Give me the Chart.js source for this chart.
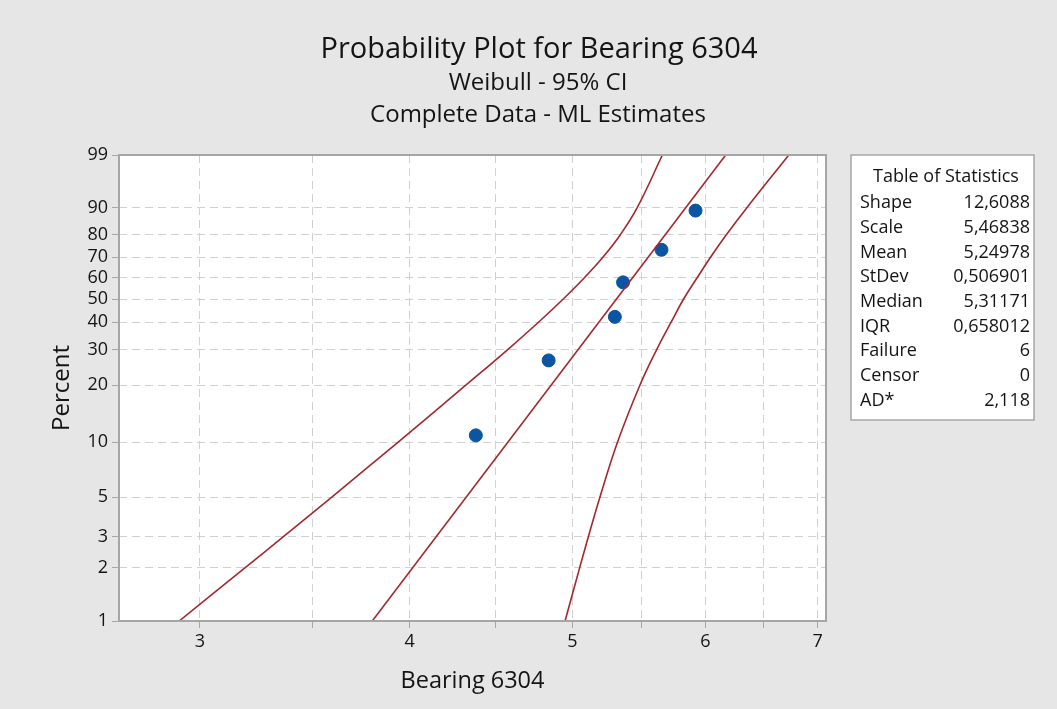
<!DOCTYPE html>
<html>
<head>
<meta charset="utf-8">
<script src="https://cdn.jsdelivr.net/npm/chart.js@4.4.1/dist/chart.umd.min.js"></script>
<style>
  html, body { margin: 0; padding: 0; background: #e6e6e6; }
</style>
</head>
<body>
<canvas id="chart1" width="1057" height="709"></canvas>
<script>
// Observed failure times (Bearing 6304) and their plotted percentiles
const bearing = [4.38, 4.84, 5.30, 5.36, 5.65, 5.92];
const percent = [10.9, 26.6, 42.2, 57.8, 73.4, 89.1];

// Fitted Weibull line, end points
const fitX = [3.80, 6.17];
const fitPercent = [1, 99];

// 95% confidence band, read at each percent grid line
const ciPercent = [1, 2, 3, 5, 10, 20, 30, 40, 50, 60, 70, 80, 90, 99];
const ciLower = [2.916, 3.191, 3.364, 3.595, 3.936, 4.320, 4.576, 4.773, 4.938, 5.083, 5.215, 5.339, 5.465, 5.657];
const ciUpper = [4.950, 5.050, 5.111, 5.193, 5.319, 5.485, 5.613, 5.725, 5.824, 5.933, 6.044, 6.174, 6.352, 6.728];

// axis ticks
const yTicks = [1, 2, 3, 5, 10, 20, 30, 40, 50, 60, 70, 80, 90, 99];
const xTicks = [3, 3.5, 4, 4.5, 5, 5.5, 6, 6.5, 7];

// Table of Statistics
const statNames = ['Shape', 'Scale', 'Mean', 'StDev', 'Median', 'IQR', 'Failure', 'Censor', 'AD*'];
const statValues = ['12,6088', '5,46838', '5,24978', '0,506901', '5,31171', '0,658012', '6', '0', '2,118'];

const FONT = "'Open Sans', 'Noto Sans', sans-serif";
const TXT = '#141414';
const RED = '#a3282d';

// weibull probability scale: ln(-ln(1-p))
const wb = (p) => Math.log(-Math.log(1 - p / 100));
const toPts = (xs, ps) => xs.map((x, i) => ({ x: x, y: wb(ps[i]) }));

const ctx1 = document.getElementById('chart1').getContext('2d');

const backdrop = {
  id: 'backdrop',
  beforeDraw(chart) {
    const c = chart.ctx, a = chart.chartArea;
    c.save();
    c.fillStyle = '#e6e6e6';
    c.fillRect(0, 0, chart.width, chart.height);
    c.fillStyle = '#ffffff';
    c.fillRect(a.left, a.top, a.right - a.left, a.bottom - a.top);
    c.restore();
  },
  afterDraw(chart) {
    const c = chart.ctx, a = chart.chartArea;
    c.save();
    // frame round the plot
    c.strokeStyle = '#a6a6a6';
    c.lineWidth = 2;
    c.strokeRect(a.left, a.top, a.right - a.left, a.bottom - a.top);

    // titles
    c.fillStyle = TXT;
    c.textAlign = 'center';
    c.textBaseline = 'middle';
    c.font = '29px ' + FONT;
    c.fillText('Probability Plot for Bearing 6304', 539, 50);
    c.font = '24px ' + FONT;
    c.fillText('Weibull - 95% CI', 538, 83);
    c.fillText('Complete Data - ML Estimates', 538, 115);

    // stats table
    c.fillStyle = '#ffffff';
    c.fillRect(851, 155, 183, 265);
    c.strokeStyle = '#a6a6a6';
    c.lineWidth = 1.5;
    c.strokeRect(851, 155, 183, 265);
    c.fillStyle = TXT;
    c.font = '18px ' + FONT;
    c.fillText('Table of Statistics', 946, 177);
    statNames.forEach(function(name, i) {
      const y = 203 + i * 24.7;
      c.textAlign = 'left';
      c.fillText(name, 860, y);
      c.textAlign = 'right';
      c.fillText(statValues[i], 1030, y);
    });
    c.restore();
  }
};

new Chart(ctx1, {
  type: 'scatter',
  data: {
    datasets: [
      {
        label: 'Lower CI',
        data: toPts(ciLower, ciPercent),
        showLine: true,
        borderColor: RED,
        borderWidth: 1.6,
        pointRadius: 0,
        tension: 0.4,
      },
      {
        label: 'Upper CI',
        data: toPts(ciUpper, ciPercent),
        showLine: true,
        borderColor: RED,
        borderWidth: 1.6,
        pointRadius: 0,
        tension: 0.4,
      },
      {
        label: 'Fit',
        data: toPts(fitX, fitPercent),
        showLine: true,
        borderColor: RED,
        borderWidth: 1.6,
        pointRadius: 0,
      },
      {
        label: 'Bearing 6304',
        data: toPts(bearing, percent),
        backgroundColor: '#0b55a3',
        borderColor: '#0b55a3',
        pointRadius: 6.5,
        pointHoverRadius: 6.5,
      },
    ],
  },
  options: {
    responsive: false,
    animation: false,
    layout: { padding: { left: 0, top: 155, right: 231, bottom: 0 } },
    plugins: {
      legend: { display: false },
      tooltip: { enabled: false },
    },
    scales: {
      x: {
        type: 'logarithmic',
        min: 2.685,
        max: 7.08,
        afterBuildTicks: (axis) => { axis.ticks = xTicks.map((v) => ({ value: v })); },
        afterFit: (axis) => { axis.height = 88; },
        ticks: {
          autoSkip: false,
          maxRotation: 0,
          padding: 3,
          color: TXT,
          font: { family: FONT, size: 18 },
          callback: (v) => (Number.isInteger(v) ? String(v) : ''),
        },
        grid: { color: '#d0d0d0', lineWidth: 1, tickLength: 7, tickColor: '#a6a6a6', tickBorderDash: [] },
        border: { display: false, dash: [8, 5] },
        title: {
          display: true,
          text: 'Bearing 6304',
          color: TXT,
          font: { family: FONT, size: 23.5 },
          padding: { top: 0, bottom: 14 },
        },
      },
      y: {
        type: 'linear',
        min: wb(1),
        max: wb(99),
        afterBuildTicks: (axis) => { axis.ticks = yTicks.map((p) => ({ value: wb(p) })); },
        afterFit: (axis) => { axis.width = 119; },
        ticks: {
          autoSkip: false,
          padding: 4,
          color: TXT,
          font: { family: FONT, size: 18 },
          callback: (v, i) => String(yTicks[i]),
        },
        grid: { color: '#d0d0d0', lineWidth: 1, tickLength: 7, tickColor: '#a6a6a6', tickBorderDash: [] },
        border: { display: false, dash: [8, 5] },
        title: {
          display: true,
          text: 'Percent',
          color: TXT,
          font: { family: FONT, size: 24 },
          padding: { top: 48, bottom: 0 },
        },
      },
    },
  },
  plugins: [backdrop],
});
</script>
</body>
</html>
